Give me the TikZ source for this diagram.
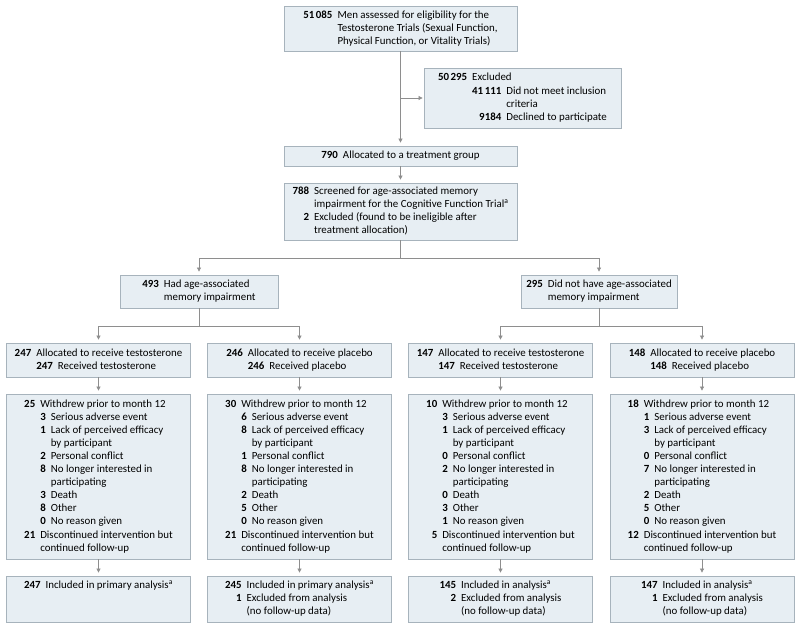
\documentclass[tikz,border=0pt]{standalone}
\usepackage{fontspec}
\setmainfont{Carlito}
\usetikzlibrary{arrows.meta, positioning}
\definecolor{boxfill}{HTML}{E7EEF3}
\definecolor{boxline}{HTML}{A7B3BC}
\definecolor{linkgray}{HTML}{8E8E8E}
\newcommand{\mc}[1]{\multicolumn{2}{@{}l@{}}{#1}}

\begin{document}
\begin{tikzpicture}[x=1pt, y=-1pt, font=\fontsize{10.9}{13.1}\selectfont,
  box/.style={draw=boxline, fill=boxfill, line width=0.8pt, inner sep=2pt, minimum width=184pt},
  link/.style={draw=linkgray, line width=0.7pt},
  arr/.style={link, -{Triangle[length=4pt, width=4pt]}, shorten >=3pt}]
\useasboundingbox (0,0) rectangle (800,629);

% enrollment
\node[box, minimum width=233pt, minimum height=45pt] (assess) at (400.5,28.5) {\begin{tabular}{@{}r@{\hspace{5pt}}l@{}}
\textbf{51\hspace{1.5pt}085} & Men assessed for eligibility for the\\
 & Testosterone Trials (Sexual Function,\\
 & Physical Function, or Vitality Trials)
\end{tabular}};
\node[box, minimum width=197pt, minimum height=60pt] (excl) at (522.5,98) {\begin{tabular}{@{}r@{\hspace{5pt}}r@{\hspace{5pt}}l@{}}
\textbf{50\hspace{1.5pt}295} & \mc{Excluded}\\
 & \textbf{41\hspace{1.5pt}111} & Did not meet inclusion\\
 & & criteria\\
 & \textbf{9184} & Declined to participate
\end{tabular}};
\node[box, minimum width=233pt, minimum height=20pt] (treat) at (400.5,156) {\textbf{790}\hspace{5pt}Allocated to a treatment group};
\node[box, minimum width=233pt, minimum height=57pt] (screen) at (400.5,211.5) {\begin{tabular}{@{}r@{\hspace{5pt}}l@{}}
\textbf{788} & Screened for age-associated memory\\
 & impairment for the Cognitive Function Trial\textsuperscript{a}\\
\textbf{2} & Excluded (found to be ineligible after\\
 & treatment allocation)
\end{tabular}};

% memory groups
\node[box, minimum width=158pt, minimum height=33pt] (amai) at (199,291.5) {\begin{tabular}{@{}r@{\hspace{5pt}}l@{}}
\textbf{493} & Had age-associated\\
 & memory impairment
\end{tabular}};
\node[box, minimum width=156pt, minimum height=33pt] (noamai) at (599,291.5) {\begin{tabular}{@{}r@{\hspace{5pt}}l@{}}
\textbf{295} & Did not have age-associated\\
 & memory impairment
\end{tabular}};

% randomized arms
\node[box, minimum height=34pt] (arm1) at (98.5,360) {\begin{tabular}{@{}r@{\hspace{5pt}}r@{\hspace{5pt}}l@{}}
\textbf{247} & \mc{Allocated to receive testosterone}\\
 & \textbf{247} & Received testosterone
\end{tabular}};
\node[box, minimum height=34pt] (arm2) at (299.5,360) {\begin{tabular}{@{}r@{\hspace{5pt}}r@{\hspace{5pt}}l@{}}
\textbf{246} & \mc{Allocated to receive placebo}\\
 & \textbf{246} & Received placebo
\end{tabular}};
\node[box, minimum height=34pt] (arm3) at (500.5,360) {\begin{tabular}{@{}r@{\hspace{5pt}}r@{\hspace{5pt}}l@{}}
\textbf{147} & \mc{Allocated to receive testosterone}\\
 & \textbf{147} & Received testosterone
\end{tabular}};
\node[box, minimum height=34pt] (arm4) at (702,360) {\begin{tabular}{@{}r@{\hspace{5pt}}r@{\hspace{5pt}}l@{}}
\textbf{148} & \mc{Allocated to receive placebo}\\
 & \textbf{148} & Received placebo
\end{tabular}};

% follow-up
\node[box, minimum height=165pt] (wd1) at (98.5,476.5) {\begin{tabular}{@{}r@{\hspace{5pt}}r@{\hspace{5pt}}l@{}}
\textbf{25} & \mc{Withdrew prior to month 12}\\
 & \textbf{3} & Serious adverse event\\
 & \textbf{1} & Lack of perceived efficacy\\
 & & by participant\\
 & \textbf{2} & Personal conflict\\
 & \textbf{8} & No longer interested in\\
 & & participating\\
 & \textbf{3} & Death\\
 & \textbf{8} & Other\\
 & \textbf{0} & No reason given\\
\textbf{21} & \mc{Discontinued intervention but}\\
 & \mc{continued follow-up}
\end{tabular}};
\node[box, minimum height=165pt] (wd2) at (299.5,476.5) {\begin{tabular}{@{}r@{\hspace{5pt}}r@{\hspace{5pt}}l@{}}
\textbf{30} & \mc{Withdrew prior to month 12}\\
 & \textbf{6} & Serious adverse event\\
 & \textbf{8} & Lack of perceived efficacy\\
 & & by participant\\
 & \textbf{1} & Personal conflict\\
 & \textbf{8} & No longer interested in\\
 & & participating\\
 & \textbf{2} & Death\\
 & \textbf{5} & Other\\
 & \textbf{0} & No reason given\\
\textbf{21} & \mc{Discontinued intervention but}\\
 & \mc{continued follow-up}
\end{tabular}};
\node[box, minimum height=165pt] (wd3) at (500.5,476.5) {\begin{tabular}{@{}r@{\hspace{5pt}}r@{\hspace{5pt}}l@{}}
\textbf{10} & \mc{Withdrew prior to month 12}\\
 & \textbf{3} & Serious adverse event\\
 & \textbf{1} & Lack of perceived efficacy\\
 & & by participant\\
 & \textbf{0} & Personal conflict\\
 & \textbf{2} & No longer interested in\\
 & & participating\\
 & \textbf{0} & Death\\
 & \textbf{3} & Other\\
 & \textbf{1} & No reason given\\
\textbf{5} & \mc{Discontinued intervention but}\\
 & \mc{continued follow-up}
\end{tabular}};
\node[box, minimum height=165pt] (wd4) at (702,476.5) {\begin{tabular}{@{}r@{\hspace{5pt}}r@{\hspace{5pt}}l@{}}
\textbf{18} & \mc{Withdrew prior to month 12}\\
 & \textbf{1} & Serious adverse event\\
 & \textbf{3} & Lack of perceived efficacy\\
 & & by participant\\
 & \textbf{0} & Personal conflict\\
 & \textbf{7} & No longer interested in\\
 & & participating\\
 & \textbf{2} & Death\\
 & \textbf{5} & Other\\
 & \textbf{0} & No reason given\\
\textbf{12} & \mc{Discontinued intervention but}\\
 & \mc{continued follow-up}
\end{tabular}};

% analysis
\node[box, minimum height=46pt] (ana1) at (98.5,599) {\begin{tabular}{@{}r@{\hspace{5pt}}l@{}}
\textbf{247} & Included in primary analysis\textsuperscript{a}\\
 & \\
 &
\end{tabular}};
\node[box, minimum height=46pt] (ana2) at (299.5,599) {\begin{tabular}{@{}r@{\hspace{5pt}}l@{}}
\textbf{245} & Included in primary analysis\textsuperscript{a}\\
\textbf{1} & Excluded from analysis\\
 & (no follow-up data)
\end{tabular}};
\node[box, minimum height=46pt] (ana3) at (500.5,599) {\begin{tabular}{@{}r@{\hspace{5pt}}l@{}}
\textbf{145} & Included in analysis\textsuperscript{a}\\
\textbf{2} & Excluded from analysis\\
 & (no follow-up data)
\end{tabular}};
\node[box, minimum height=46pt] (ana4) at (702,599) {\begin{tabular}{@{}r@{\hspace{5pt}}l@{}}
\textbf{147} & Included in analysis\textsuperscript{a}\\
\textbf{1} & Excluded from analysis\\
 & (no follow-up data)
\end{tabular}};

% connectors
\coordinate (split) at (400.5,98);
\coordinate (fork) at (400.5,258);
\coordinate (forkA) at (199,326);
\coordinate (forkB) at (599,326);
\draw[arr] (assess) -- (treat);
\draw[arr, shorten >=1pt] (split) -- (excl);
\draw[arr] (treat) -- (screen);
\draw[link] (screen) -- (fork);
\draw[arr] (fork) -| (amai);
\draw[arr] (fork) -| (noamai);
\draw[link] (amai) -- (forkA);
\draw[arr] (forkA) -| (arm1);
\draw[arr] (forkA) -| (arm2);
\draw[link] (noamai) -- (forkB);
\draw[arr] (forkB) -| (arm3);
\draw[arr] (forkB) -| (arm4);
\foreach \c in {1,2,3,4} {
  \draw[arr] (arm\c) -- (wd\c);
  \draw[arr] (wd\c) -- (ana\c);
}
\end{tikzpicture}
\end{document}
